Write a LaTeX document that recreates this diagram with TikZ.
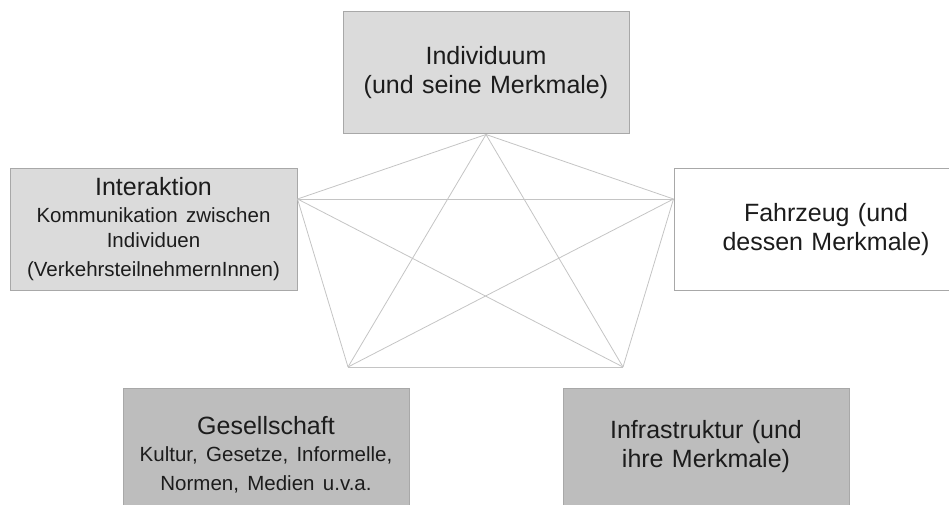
\documentclass[tikz,border=0pt]{standalone}
\usepackage{fontspec}
\setmainfont{Liberation Sans}
\usetikzlibrary{calc}
\frenchspacing

\definecolor{lightfill}{HTML}{DBDBDB}
\definecolor{darkfill}{HTML}{BDBDBD}
\definecolor{boxline}{HTML}{A8A8A8}
\definecolor{linkgray}{HTML}{C4C4C4}
\definecolor{textdark}{HTML}{1C1C1C}
\newcommand{\headfont}{\fontsize{25}{29}\selectfont}
\newcommand{\subfont}{\fontsize{20.5}{25}\selectfont}

\begin{document}
\begin{tikzpicture}[
  x=1pt, y=-1pt,
  box/.style={draw=boxline, line width=1pt, inner sep=0pt, minimum width=286pt,
    text width=272pt, align=center, font=\headfont, text=textdark},
  lightbox/.style={box, fill=lightfill},
  darkbox/.style={box, fill=darkfill},
  plainbox/.style={box, fill=white},
  link/.style={draw=linkgray, line width=0.8pt},
]
\clip (0,0) rectangle (949,505);

% Boxes
\node[lightbox, minimum height=122pt] (indiv) at (486,73)
  {Individuum\\(und seine Merkmale)};
\node[lightbox, minimum width=287pt, minimum height=121pt] (inter) at (153.5,229.5)
  {Interaktion\\[2pt]\subfont Kommunikation zwischen\\Individuen\\(VerkehrsteilnehmernInnen)};
\node[plainbox, minimum width=304pt, minimum height=121pt] (fahr) at (826,229.5)
  {Fahrzeug (und\\dessen Merkmale)};
\node[darkbox, minimum height=134pt] (ges) at (266,455)
  {Gesellschaft\\[2pt]\subfont Kultur, Gesetze, Informelle,\\Normen, Medien u.v.a.};
\node[darkbox, minimum height=118pt] (infra) at (706,447)
  {Infrastruktur (und\\ihre Merkmale)};

% Corners of the star
\coordinate (pI) at (indiv.south);
\coordinate (pL) at ($(inter.north east)!0.25!(inter.south east)$);
\coordinate (pR) at ($(fahr.north west)!0.25!(fahr.south west)$);
\coordinate (pG) at (348,367);
\coordinate (pF) at (623,367);

% Links
\foreach \a/\b in {pI/pL, pI/pR, pI/pG, pI/pF, pL/pR, pL/pG, pL/pF, pR/pG, pR/pF, pG/pF}
  \draw[link] (\a) -- (\b);

\end{tikzpicture}
\end{document}
